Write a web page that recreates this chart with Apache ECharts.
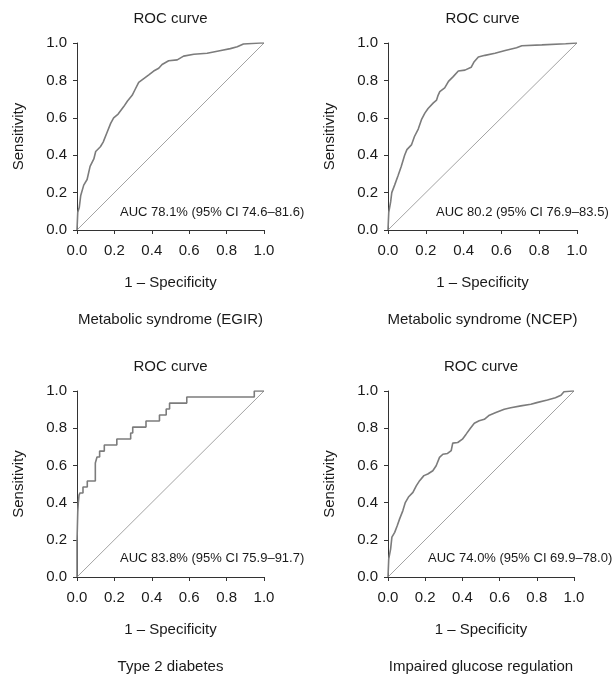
<!DOCTYPE html>
<html>
<head>
<meta charset="utf-8">
<script src="https://cdn.jsdelivr.net/npm/echarts@6/dist/echarts.min.js"></script>
<style>
html,body{margin:0;padding:0;background:#fff;}
#chart{width:616px;height:677px;}
</style>
</head>
<body>
<div id="chart"></div>
<script>
// ---------- data ----------
var tickLabels = ['0.0', '0.2', '0.4', '0.6', '0.8', '1.0'];
var panelNames = ['Metabolic syndrome (EGIR)', 'Metabolic syndrome (NCEP)', 'Type 2 diabetes', 'Impaired glucose regulation'];
var aucTexts = ['AUC 78.1% (95% CI 74.6\u201381.6)', 'AUC 80.2 (95% CI 76.9\u201383.5)', 'AUC 83.8% (95% CI 75.9\u201391.7)', 'AUC 74.0% (95% CI 69.9\u201378.0)'];
var diagonal = [[0, 0], [1, 1]];

// ROC curve, Metabolic syndrome (EGIR): [1 - specificity, sensitivity]
var rocEGIR = [
  [0,0],[0.004,0.095],[0.012,0.12],[0.02,0.185],[0.036,0.24],[0.054,0.27],[0.07,0.34],[0.09,0.38],
  [0.10,0.42],[0.125,0.445],[0.14,0.47],[0.16,0.52],[0.18,0.57],[0.196,0.60],[0.22,0.62],[0.25,0.66],
  [0.27,0.69],[0.295,0.72],[0.31,0.75],[0.33,0.79],[0.357,0.81],[0.384,0.83],[0.41,0.85],[0.437,0.865],
  [0.455,0.885],[0.49,0.905],[0.536,0.91],[0.57,0.93],[0.625,0.94],[0.696,0.945],[0.77,0.96],[0.82,0.97],
  [0.857,0.98],[0.89,0.995],[0.98,1.0],[1,1]
];
// ROC curve, Metabolic syndrome (NCEP)
var rocNCEP = [
  [0,0],[0.004,0.095],[0.014,0.15],[0.02,0.2],[0.035,0.24],[0.053,0.29],[0.07,0.34],[0.088,0.40],
  [0.10,0.43],[0.124,0.455],[0.14,0.50],[0.16,0.54],[0.177,0.59],[0.195,0.625],[0.212,0.65],[0.24,0.68],
  [0.257,0.695],[0.265,0.72],[0.274,0.74],[0.30,0.76],[0.32,0.795],[0.345,0.82],[0.372,0.85],[0.407,0.855],
  [0.44,0.87],[0.456,0.90],[0.478,0.925],[0.513,0.934],[0.566,0.945],[0.62,0.96],[0.68,0.975],[0.708,0.985],
  [0.814,0.99],[0.94,0.996],[1,1]
];
// ROC curve, Type 2 diabetes (stepwise)
var rocT2D = [
  [0,0],[0,0.19],[0.004,0.35],[0.007,0.40],[0.011,0.44],[0.016,0.452],[0.032,0.452],[0.032,0.484],
  [0.055,0.484],[0.055,0.516],[0.098,0.516],[0.098,0.613],[0.107,0.613],[0.107,0.645],[0.121,0.645],
  [0.121,0.677],[0.146,0.677],[0.146,0.71],[0.213,0.71],[0.213,0.742],[0.287,0.742],[0.287,0.774],
  [0.298,0.774],[0.298,0.806],[0.369,0.806],[0.369,0.839],[0.441,0.839],[0.441,0.871],[0.477,0.871],
  [0.477,0.903],[0.495,0.903],[0.495,0.935],[0.587,0.935],[0.587,0.968],[0.948,0.968],[0.948,1.0],[1,1]
];
// ROC curve, Impaired glucose regulation
var rocIGR = [
  [0,0],[0.004,0.098],[0.014,0.15],[0.021,0.214],[0.036,0.24],[0.05,0.277],[0.0625,0.3125],[0.08,0.357],
  [0.093,0.40],[0.11,0.43],[0.134,0.455],[0.152,0.49],[0.17,0.518],[0.193,0.545],[0.214,0.554],[0.241,0.571],
  [0.259,0.598],[0.277,0.643],[0.295,0.66],[0.32,0.664],[0.34,0.68],[0.348,0.72],[0.375,0.723],[0.40,0.741],
  [0.42,0.768],[0.443,0.80],[0.464,0.827],[0.49,0.84],[0.518,0.848],[0.545,0.87],[0.58,0.884],[0.625,0.902],
  [0.66,0.91],[0.714,0.92],[0.768,0.929],[0.80,0.9375],[0.857,0.952],[0.90,0.964],[0.93,0.977],[0.946,0.996],
  [0.99,1.0],[1,1]
];
var rocSeries = [rocEGIR, rocNCEP, rocT2D, rocIGR];

// ---------- layout ----------
var FONT = '"Liberation Sans", Arial, Helvetica, sans-serif';
var TXT = '#1a1a1a';
var grids = [
  {left: 77, top: 43, width: 187, height: 187},
  {left: 388, top: 43, width: 189, height: 187},
  {left: 77, top: 391, width: 187, height: 186},
  {left: 388, top: 391, width: 186, height: 186}
];
var aucPos = [[120, 212], [436, 212], [120, 558], [428, 558]];

function fmt(v) {
  var i = Math.round(v * 5);
  return tickLabels[i] !== undefined ? tickLabels[i] : v.toFixed(1);
}

var xAxes = [], yAxes = [], series = [], graphics = [];
grids.forEach(function (g, i) {
  var axisCommon = {
    type: 'value', min: 0, max: 1, interval: 0.2, gridIndex: i,
    axisLine: {show: true, onZero: false, lineStyle: {color: '#333', width: 1}},
    axisTick: {show: true, inside: false, length: 4, lineStyle: {color: '#333', width: 1}},
    splitLine: {show: false},
    axisLabel: {formatter: fmt, color: TXT, fontSize: 15, fontFamily: FONT, showMinLabel: true, showMaxLabel: true},
    nameLocation: 'middle',
    nameTextStyle: {color: TXT, fontSize: 15, fontFamily: FONT}
  };
  var xa = JSON.parse(JSON.stringify(axisCommon));
  xa.axisLabel.formatter = fmt; xa.axisLabel.margin = 13;
  xa.name = '1 \u2013 Specificity'; xa.nameGap = 45;
  xAxes.push(xa);
  var ya = JSON.parse(JSON.stringify(axisCommon));
  ya.axisLabel.formatter = fmt; ya.axisLabel.margin = 10;
  ya.name = 'Sensitivity'; ya.nameGap = 51; ya.nameRotate = 90;
  yAxes.push(ya);

  series.push({
    type: 'line', xAxisIndex: i, yAxisIndex: i, data: diagonal, showSymbol: false, silent: true,
    lineStyle: {color: '#a3a3a3', width: 1}, z: 2
  });
  series.push({
    type: 'line', xAxisIndex: i, yAxisIndex: i, data: rocSeries[i], showSymbol: false, silent: true,
    lineStyle: {color: '#7c7c7c', width: 1.6}, z: 3
  });

  var cx = g.left + g.width / 2;
  graphics.push({type: 'text', x: cx, y: g.top - 24, style: {text: 'ROC curve', fill: TXT, font: '15px ' + FONT, textAlign: 'center', textVerticalAlign: 'middle'}});
  graphics.push({type: 'text', x: cx, y: g.top + g.height + 90, style: {text: panelNames[i], fill: TXT, font: '15px ' + FONT, textAlign: 'center', textVerticalAlign: 'middle'}});
  graphics.push({type: 'text', x: aucPos[i][0], y: aucPos[i][1], style: {text: aucTexts[i], fill: TXT, font: '13px ' + FONT, textAlign: 'left', textVerticalAlign: 'middle'}});
});

var chart = echarts.init(document.getElementById('chart'), null, {renderer: 'canvas'});
chart.setOption({
  animation: false,
  backgroundColor: '#fff',
  grid: grids,
  xAxis: xAxes,
  yAxis: yAxes,
  series: series,
  graphic: graphics
});
</script>
</body>
</html>
